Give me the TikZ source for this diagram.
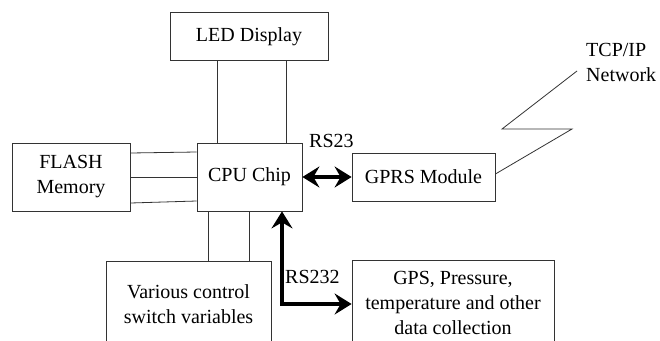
\documentclass[tikz,border=0pt]{standalone}
\usepackage{fontspec}
\setmainfont{Liberation Serif}
\usetikzlibrary{arrows.meta}
\begin{document}
\begin{tikzpicture}[x=1pt,y=-1pt,
  box/.style={draw=black!80,line width=0.8pt,inner sep=0pt,font=\fontspec{Liberation Serif}\fontsize{20}{25}\selectfont},
  thin/.style={draw=black!80,line width=0.8pt},
  bus/.style={line width=3.4pt,{Stealth[length=17pt,width=21pt,inset=6pt]}-{Stealth[length=17pt,width=21pt,inset=6pt]}},
  lbl/.style={inner sep=0pt,font=\fontspec{Liberation Serif}\fontsize{20}{25}\selectfont}]
\fill[white] (0,0) rectangle (660,340);
\useasboundingbox (0,0) rectangle (660,340);
\node[box,minimum width=158pt,minimum height=48pt] (led) at (249,36.5) {LED Display};
\node[box,minimum width=105pt,minimum height=68pt] (cpu) at (249.5,177) {CPU Chip};
\node[box,minimum width=118pt,minimum height=68pt,align=center] (flash) at (71,177) {FLASH\\Memory};
\node[box,minimum width=143pt,minimum height=48pt] (gprs) at (423.5,177) {GPRS Module};
\node[box,minimum width=165pt,minimum height=86pt,align=center] (sw) at (188.5,304) {Various control\\switch variables};
\node[box,minimum width=202pt,minimum height=86pt,align=center] (gps) at (453,303) {GPS, Pressure,\\temperature and other\\data collection};
% LED lines
\draw[thin] (led.south -| 217,0) -- (cpu.north -| 217,0);
\draw[thin] (led.south -| 286,0) -- (cpu.north -| 286,0);
% flash lines
\draw[thin] (flash.east |- 0,153) -- (cpu.west |- 0,152);
\draw[thin] (flash.east |- 0,177) -- (cpu.west |- 0,177);
\draw[thin] (flash.east |- 0,203) -- (cpu.west |- 0,201);
% switch lines
\draw[thin] (cpu.south -| 208,0) -- (sw.north -| 208,0);
\draw[thin] (cpu.south -| 249,0) -- (sw.north -| 249,0);
% buses
\draw[bus] (cpu.east) -- (gprs.west);
\coordinate (rsc) at (282,304);
\draw[bus] (cpu.south -| rsc) -- (rsc) -- (gps.west |- rsc);
\node[lbl,anchor=west] (rs1) at (309,141) {RS23};
\node[lbl,anchor=west] (rs2) at (285,277) {RS232};
% lightning
\coordinate (z1) at (572,129);
\coordinate (z2) at (502,129);
\coordinate (z3) at (577,71);
\draw[thin] (gprs.east |- 0,174) -- (z1) -- (z2) -- (z3);
\node[lbl,anchor=west,align=left] (tcp) at (586,62) {TCP/IP\\Network};
\end{tikzpicture}
\end{document}
